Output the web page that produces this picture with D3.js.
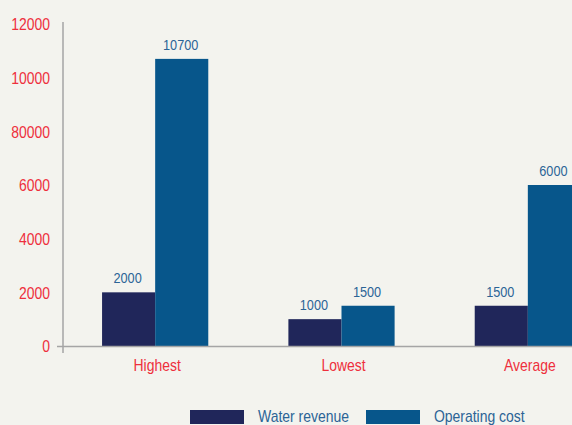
<!DOCTYPE html>
<html><head><meta charset="utf-8">
<script src="https://cdn.jsdelivr.net/npm/d3@7"></script>
<style>
html,body{margin:0;padding:0;background:#f3f3ee;}
svg{display:block;}
text{font-family:"Liberation Sans",Arial,sans-serif;}
</style></head>
<body>
<svg id="chart" width="572" height="425"></svg>
<script>
const categories = ["Highest", "Lowest", "Average"];
const seriesNames = ["Water revenue", "Operating cost"];
const waterRevenue = [2000, 1000, 1500];
const operatingCost = [10700, 1500, 6000];
const tickValues = [0, 2000, 4000, 6000, 8000, 10000, 12000];
const tickLabels = ["0", "2000", "4000", "6000", "80000", "10000", "12000"];
const colors = ["#20265a", "#07568b"];

const svg = d3.select("#chart");
svg.append("rect").attr("width",572).attr("height",425).attr("fill","#f3f3ee");

const y = d3.scaleLinear().domain([0,12000]).range([346,24]);
const x0 = d3.scaleBand().domain(categories).range([62,621]).paddingInner(0.43).paddingOuter(0.215);
const x1 = d3.scaleBand().domain(seriesNames).range([0,x0.bandwidth()]).padding(0);

const series = [waterRevenue, operatingCost];

// y axis
const yAxis = d3.axisLeft(y).tickValues(tickValues).tickSize(0).tickPadding(13)
  .tickFormat((d,i)=>tickLabels[i]);
const gy = svg.append("g").attr("transform","translate(63,0)").call(yAxis);
gy.select(".domain").remove();
gy.selectAll("text").attr("fill","#ee2f3c").attr("font-size","17px").attr("dy","0.35em");
svg.append("line").attr("x1",63).attr("x2",63).attr("y1",22).attr("y2",353)
  .attr("stroke","#a5a5a5").attr("stroke-width",1.5);

// bars
const groups = svg.append("g").selectAll("g").data(categories).join("g")
  .attr("transform", d=>`translate(${x0(d)},0)`);
seriesNames.forEach((s,si)=>{
  groups.append("rect")
    .attr("x", x1(s))
    .attr("width", x1.bandwidth())
    .attr("y", (d,i)=>y(series[si][i]))
    .attr("height", (d,i)=>y(0)-y(series[si][i]))
    .attr("fill", colors[si]);
  groups.append("text")
    .attr("x", x1(s)+x1.bandwidth()/2 - 1)
    .attr("y", (d,i)=>y(series[si][i])-9)
    .attr("text-anchor","middle")
    .attr("font-size","15.5px")
    .attr("fill","#2b6496")
    .text((d,i)=>series[si][i]);
});

// baseline
svg.append("line").attr("x1",57).attr("x2",572).attr("y1",346.5).attr("y2",346.5)
  .attr("stroke","#a5a5a5").attr("stroke-width",1.5);

// x axis labels
const xAxis = d3.axisBottom(x0).tickSize(0).tickPadding(13);
const gx = svg.append("g").attr("transform","translate(2,346)").call(xAxis);
gx.select(".domain").remove();
gx.selectAll("text").attr("fill","#ee2f3c").attr("font-size","17px");

// legend
const legendX = [190, 366];
const leg = svg.append("g");
seriesNames.forEach((s,i)=>{
  leg.append("rect").attr("x",legendX[i]).attr("y",410).attr("width",54).attr("height",14).attr("fill",colors[i]);
  leg.append("text").attr("x",legendX[i]+68).attr("y",422).attr("font-size","17px")
    .attr("fill","#2b6496").text(s);
});

// condensed look: compress all glyphs horizontally
svg.selectAll("text").each(function(){
  const w = this.getComputedTextLength();
  d3.select(this).attr("textLength", w*0.82).attr("lengthAdjust","spacingAndGlyphs");
});
</script>
</body></html>
